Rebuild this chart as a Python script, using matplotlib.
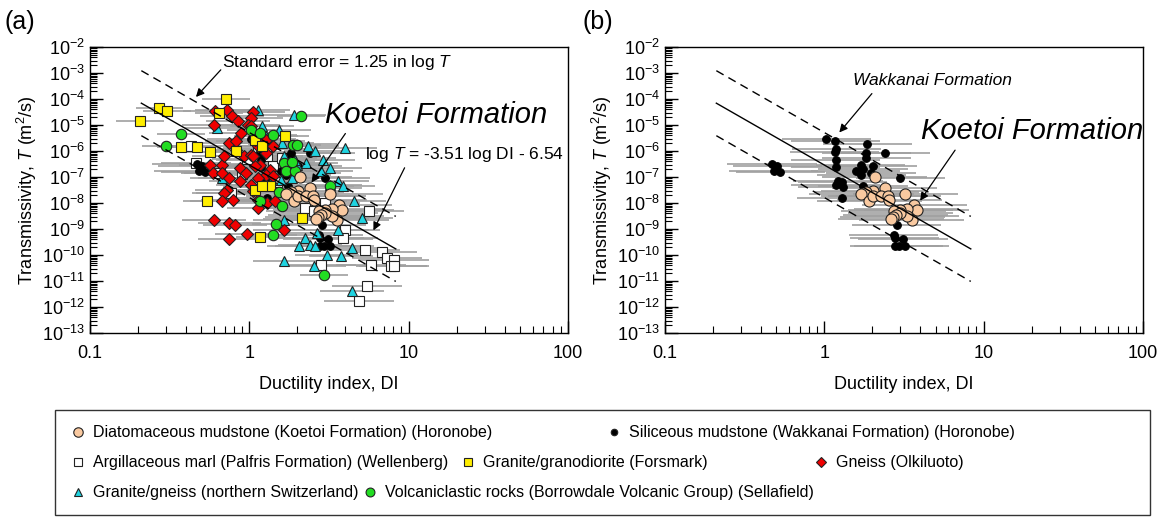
import numpy as np
import matplotlib
matplotlib.use('Agg')
import matplotlib.pyplot as plt
from matplotlib.lines import Line2D
from matplotlib.patches import Rectangle
from matplotlib.ticker import LogLocator, NullFormatter, FuncFormatter

plt.rcParams['font.family'] = ['Liberation Sans', 'DejaVu Sans']
plt.rcParams['mathtext.fontset'] = 'custom'
plt.rcParams['mathtext.rm'] = 'Liberation Sans'
plt.rcParams['mathtext.it'] = 'Liberation Sans:italic'

# ---- data: ductility index DI and log10 of transmissivity T ----
# Koetoi Formation (Horonobe)
di_koetoi = [2.07, 2.39, 2.03, 1.83, 1.71, 1.91, 2.03, 2.27, 2.52, 2.55, 3.22,
             3.66, 3.81, 3.29, 3.0, 2.73, 3.53, 3.29, 3.0, 2.8, 2.69, 2.62]
lt_koetoi = [-7.01, -7.42, -7.55, -7.59, -7.65, -7.91, -7.74, -7.74, -7.74, -7.87, -7.64,
             -8.06, -8.26, -8.23, -8.26, -8.32, -8.64, -8.51, -8.38, -8.45, -8.54, -8.6]

# Wakkanai Formation (Horonobe)
di_wakka = [1.03, 1.17, 1.19, 1.16, 1.18, 1.18, 1.22, 1.18, 1.30, 1.31, 1.29, 1.86,
            1.83, 1.83, 2.41, 1.69, 1.75, 1.57, 1.71, 2.01, 1.96, 1.75, 3.0, 0.47,
            0.507, 0.48, 0.53, 2.85, 2.73, 2.77, 3.12, 2.77, 2.93, 3.2]
lt_wakka = [-5.54, -5.63, -5.91, -6.04, -6.36, -6.62, -7.17, -7.29, -7.2, -7.4, -7.81, -5.73,
            -6.08, -6.27, -6.08, -6.55, -6.69, -6.76, -6.94, -6.59, -6.85, -7.36, -7.04, -6.49,
            -6.59, -6.78, -6.82, -8.83, -9.22, -9.35, -9.38, -9.67, -9.67, -9.67]

# Palfris Formation (Wellenberg)
di_marl = [0.46, 0.43, 0.65, 0.77, 1.41, 1.61, 2.22, 2.97, 2.54, 3.98, 3.88, 5.63,
           5.35, 6.8, 7.3, 8.1, 7.8, 5.77, 8.1, 5.5, 4.9, 2.82, 1.14, 1.3, 1.8, 0.97,
           1.5, 0.9]
lt_marl = [-6.46, -5.82, -6.85, -7.62, -6.59, -6.27, -8.19, -8.0, -8.32, -9.03, -9.35, -8.32,
           -9.79, -9.9, -10.12, -10.18, -10.44, -10.37, -10.44, -11.18, -11.78, -10.37, -5.88,
           -6.2, -6.5, -6.3, -7.2, -6.9]

# Forsmark granite/granodiorite
di_fors = [0.207, 0.273, 0.304, 0.372, 0.472, 0.569, 0.715, 0.643, 0.54, 0.826,
           1.08, 1.20, 1.35, 1.67, 1.17, 2.13, 1.08, 1.20]
lt_fors = [-4.86, -4.35, -4.47, -5.86, -5.86, -6.05, -4.0, -4.54, -7.94, -6.01,
           -5.56, -5.82, -7.36, -5.41, -9.32, -8.58, -7.49, -7.36]

# Olkiluoto gneiss
di_olki = [0.61, 0.72, 0.78, 0.60, 0.85, 1.05, 1.03, 0.98, 0.89, 0.75, 0.83, 0.92,
           1.03, 1.14, 1.27, 1.41, 1.17, 1.08, 0.88, 0.67, 0.57, 0.59, 0.67, 0.75,
           0.88, 0.72, 0.69, 0.67, 0.79, 1.05, 1.14, 1.30, 1.45, 1.14, 1.66, 0.75,
           0.60, 0.81, 0.96, 0.75, 1.03, 1.08, 1.27, 1.34, 1.27, 1.41, 1.03, 0.95,
           1.14, 0.83, 0.69, 1.05]
lt_olki = [-4.47, -4.41, -4.64, -4.99, -4.86, -4.51, -4.73, -4.99, -5.31, -5.69, -5.95, -6.21,
           -6.14, -5.82, -6.08, -5.82, -6.53, -6.59, -6.65, -6.53, -6.53, -6.85, -6.85, -7.04,
           -7.17, -7.49, -7.62, -7.94, -7.87, -7.55, -7.87, -8.0, -7.94, -8.19, -9.03, -8.77,
           -8.64, -8.83, -9.18, -9.38, -5.05, -5.56, -5.56, -6.72, -6.91, -6.97, -7.29, -6.85,
           -7.04, -5.63, -6.21, -6.21]

# northern Switzerland granite/gneiss
di_nch = [0.63, 0.67, 1.14, 1.20, 1.23, 1.6, 1.91, 2.32, 2.6, 2.9, 3.2, 4.0, 3.58,
          3.88, 4.55, 5.06, 3.2, 2.82, 2.0, 1.84, 1.57, 1.27, 1.38, 1.66, 2.67, 2.22,
          2.4, 2.6, 3.06, 3.78, 4.43, 3.58, 2.05, 1.66, 2.54, 4.43, 1.66, 1.94, 2.28,
          1.53, 1.27]
lt_nch = [-5.12, -7.04, -4.41, -5.05, -5.69, -5.69, -4.60, -5.82, -6.0, -6.33, -6.65, -5.88,
          -7.17, -7.36, -7.94, -8.58, -7.29, -6.78, -6.53, -7.04, -7.1, -6.85, -7.1, -8.64,
          -9.15, -9.35, -9.6, -9.67, -9.99, -10.05, -9.73, -9.03, -9.67, -10.24, -10.44,
          -11.4, -6.2, -6.33, -6.46, -5.18, -5.44]

# Borrowdale Volcanic Group (Sellafield)
di_bvg = [0.374, 0.30, 1.02, 1.17, 1.41, 1.89, 1.99, 2.1, 1.66, 1.7, 1.53, 1.6,
          1.17, 3.2, 1.47, 1.41, 2.93, 1.94, 1.84]
lt_bvg = [-5.33, -5.79, -5.18, -5.31, -5.37, -5.78, -5.78, -4.64, -6.46, -6.78, -7.59, -8.1,
          -7.94, -7.36, -8.81, -9.22, -10.76, -6.78, -6.42]

# regression: log T = -3.51 log DI - 6.54, standard error 1.25
slope, intercept, std_err = -3.51, -6.54, 1.25
di_fit = [0.21, 8.3]

labels = {
    'koetoi': 'Diatomaceous mudstone (Koetoi Formation) (Horonobe)',
    'wakka': 'Siliceous mudstone (Wakkanai Formation) (Horonobe)',
    'marl': 'Argillaceous marl (Palfris Formation) (Wellenberg)',
    'fors': 'Granite/granodiorite (Forsmark)',
    'olki': 'Gneiss (Olkiluoto)',
    'nch': 'Granite/gneiss (northern Switzerland)',
    'bvg': 'Volcaniclastic rocks (Borrowdale Volcanic Group) (Sellafield)',
}

# name: (di, logT, marker, face, size, half-width of DI bar in log units)
stijl = {
    'marl': (di_marl, lt_marl, 's', 'white', 7.5, 0.22),
    'wakka': (di_wakka, lt_wakka, 'o', 'black', 5.5, 0.28),
    'nch': (di_nch, lt_nch, '^', '#1fd3e0', 7.5, 0.2),
    'olki': (di_olki, lt_olki, 'D', '#f00000', 5.8, 0.2),
    'fors': (di_fors, lt_fors, 's', '#ffee00', 7.5, 0.15),
    'bvg': (di_bvg, lt_bvg, 'o', '#22dd22', 7.5, 0.15),
    'koetoi': (di_koetoi, lt_koetoi, 'o', '#f9c9a0', 8, 0.33),
}

fig = plt.figure(figsize=(11.61, 5.18), dpi=100)
ax_a = fig.add_axes([90 / 1161, 1 - 333 / 518, 478 / 1161, 286 / 518])
ax_b = fig.add_axes([665 / 1161, 1 - 333 / 518, 478 / 1161, 286 / 518])


def teken(ax, namen):
    for naam in namen:
        di, lt, mk, fc, ms, hw = stijl[naam]
        di = np.array(di)
        t = 10.0 ** np.array(lt)
        f = 10 ** hw
        ax.errorbar(di, t, xerr=[di - di / f, di * f - di], fmt='none',
                    ecolor='#a0a0a0', elinewidth=1.2, capsize=0, zorder=1)
    for naam in namen:
        di, lt, mk, fc, ms, hw = stijl[naam]
        ec = 'black' if naam == 'wakka' else '#222222'
        ax.plot(di, 10.0 ** np.array(lt), marker=mk, ls='none', ms=ms,
                mfc=fc, mec=ec, mew=0.8, zorder=3)

    x = np.array(di_fit)
    y = slope * np.log10(x) + intercept
    ax.plot(x, 10 ** y, color='black', lw=1, zorder=4)
    for s in (std_err, -std_err):
        ax.plot(x, 10 ** (y + s), color='black', lw=1, ls=(0, (6, 4)), zorder=4)

    ax.set_xscale('log')
    ax.set_yscale('log')
    ax.set_xlim(0.1, 100)
    ax.set_ylim(1e-13, 1e-2)
    ax.xaxis.set_major_formatter(FuncFormatter(lambda v, _: f'{v:g}'))
    ax.xaxis.set_minor_formatter(NullFormatter())
    ax.yaxis.set_major_locator(LogLocator(base=10, numticks=20))
    ax.yaxis.set_minor_locator(LogLocator(base=10, subs=np.arange(2, 10), numticks=20))
    ax.yaxis.set_minor_formatter(NullFormatter())
    ax.tick_params(which='major', direction='in', length=9, width=1, labelsize=13)
    ax.tick_params(which='minor', direction='in', length=5, width=0.8)
    ax.tick_params(top=False, right=False, which='both')
    ax.tick_params(axis='x', pad=9)
    ax.set_xlabel('Ductility index, DI', fontsize=13, labelpad=10)
    ax.set_ylabel('Transmissivity, $\\it{T}$ (m$^{2}$/s)', fontsize=13, labelpad=2)
    for sp in ax.spines.values():
        sp.set_linewidth(1)


teken(ax_a, ['marl', 'wakka', 'nch', 'olki', 'fors', 'bvg', 'koetoi'])
teken(ax_b, ['wakka', 'koetoi'])

pijl = dict(arrowstyle='-|>', color='black', lw=0.9, mutation_scale=12)

ax_a.text(0.67, 10 ** -2.59, 'Standard error = 1.25 in log $\\it{T}$', fontsize=12.5,
          va='center', ha='left')
ax_a.annotate('', xy=(0.45, 10 ** -4.0), xytext=(0.68, 10 ** -2.8), arrowprops=pijl)
ax_a.text(3.0, 10 ** -4.6, 'Koetoi Formation', fontsize=21, style='italic',
          va='center', ha='left')
ax_a.annotate('', xy=(2.4, 10 ** -7.3), xytext=(4.1, 10 ** -5.24), arrowprops=pijl)
ax_a.text(5.3, 10 ** -6.15, 'log $\\it{T}$ = -3.51 log DI - 6.54', fontsize=12.5,
          va='center', ha='left', clip_on=False)
ax_a.annotate('', xy=(5.9, 10 ** -9.15), xytext=(9.6, 10 ** -6.55), arrowprops=pijl)

ax_b.text(1.52, 10 ** -3.28, 'Wakkanai Formation', fontsize=12.5, style='italic',
          va='center', ha='left')
ax_b.annotate('', xy=(1.21, 10 ** -5.37), xytext=(2.04, 10 ** -3.71), arrowprops=pijl)
ax_b.text(4.05, 10 ** -5.24, 'Koetoi Formation', fontsize=21, style='italic',
          va='center', ha='left')
ax_b.annotate('', xy=(3.9, 10 ** -8.0), xytext=(6.77, 10 ** -5.88), arrowprops=pijl)

fig.text(5 / 1161, 1 - 22 / 518, '(a)', fontsize=18, va='center', ha='left')
fig.text(582 / 1161, 1 - 22 / 518, '(b)', fontsize=18, va='center', ha='left')

# legend box with entries placed by row
fig.patches.append(Rectangle((55 / 1161, 3 / 518), 1095 / 1161, 105 / 518,
                             transform=fig.transFigure, fill=False,
                             ec='#333333', lw=1))
rijen = [
    [('koetoi', 72), ('wakka', 608)],
    [('marl', 72), ('fors', 462), ('olki', 815)],
    [('nch', 72), ('bvg', 364)],
]
rij_y = [433, 463, 493]
for rij, yp in zip(rijen, rij_y):
    for naam, xp in rij:
        di, lt, mk, fc, ms, hw = stijl[naam]
        h = Line2D([], [], marker=mk, ls='none', ms=ms * 0.85, mfc=fc,
                   mec='#222222', mew=0.8)
        fig.legend(handles=[h], labels=[labels[naam]], loc='center left',
                   bbox_to_anchor=(xp / 1161, 1 - yp / 518), frameon=False,
                   fontsize=11.5, handlelength=0.8, handletextpad=0.5,
                   borderpad=0, borderaxespad=0)

fig.savefig('out.png', dpi=100)
